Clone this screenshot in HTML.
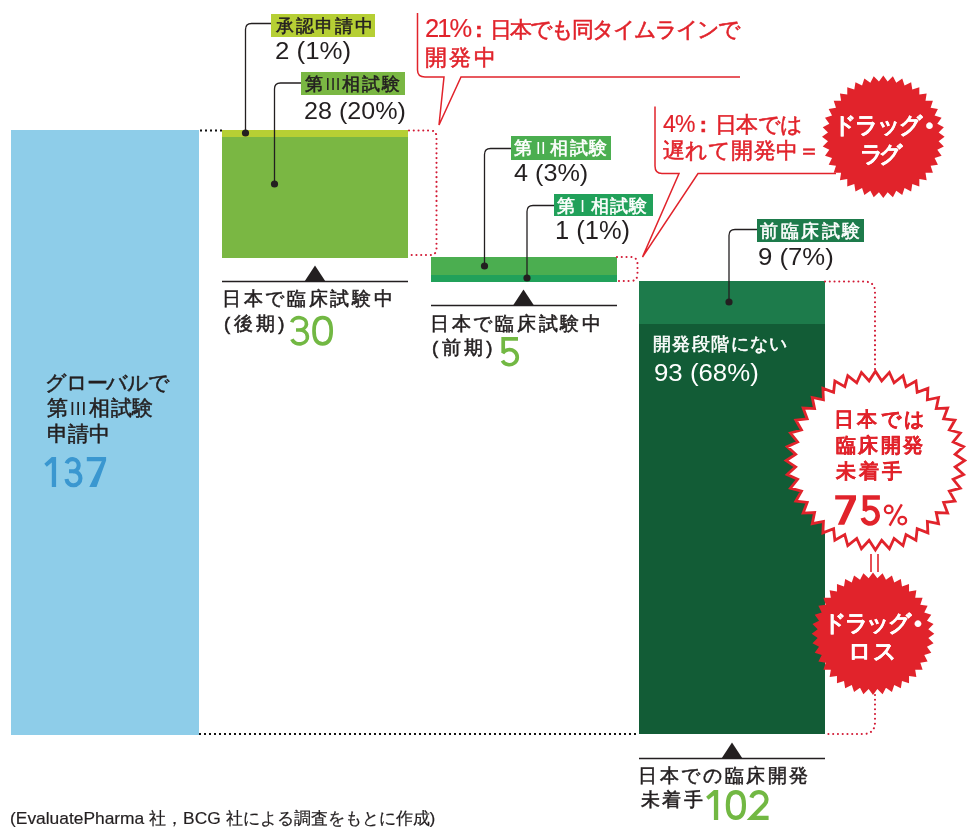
<!DOCTYPE html><html><head><meta charset="utf-8"><style>
html,body{margin:0;padding:0;width:979px;height:839px;overflow:hidden;background:#fff}
body{position:relative;font-family:"Liberation Sans",sans-serif}
.t{position:absolute;white-space:nowrap;line-height:1;margin:0;padding:0;-webkit-text-stroke:0.55px currentColor;will-change:transform}
</style></head><body>
<svg width="979" height="839" viewBox="0 0 979 839" style="position:absolute;left:0;top:0"><rect x="11" y="130" width="188" height="605" fill="#8ecde9"/><rect x="222" y="130" width="186" height="128" fill="#7ab743"/><rect x="222" y="130" width="186" height="7" fill="#b6cf34"/><rect x="431" y="257" width="186" height="25" fill="#21a15a"/><rect x="431" y="257" width="186" height="18" fill="#4bae50"/><rect x="639" y="281" width="186" height="453" fill="#125c36"/><rect x="639" y="281" width="186" height="43" fill="#1d7b4b"/><rect x="271" y="14" width="104" height="23" fill="#b6cf34"/><rect x="301" y="72" width="104" height="23" fill="#7ab743"/><rect x="511" y="136" width="100" height="24" fill="#4bae50"/><rect x="554" y="194" width="99" height="22" fill="#21a15a"/><rect x="757" y="219" width="107" height="23" fill="#1d7b4b"/><line x1="200" y1="130.5" x2="222" y2="130.5" stroke="#111" stroke-width="2" stroke-dasharray="2 3"/><line x1="199" y1="734" x2="639" y2="734" stroke="#111" stroke-width="2" stroke-dasharray="2 3"/><path d="M271,23.5 H251.5 Q245.5,23.5 245.5,29.5 V133" fill="none" stroke="#231f20" stroke-width="1.3"/><circle cx="245.5" cy="133" r="3.6" fill="#231f20"/><path d="M301,83 H280.5 Q274.5,83 274.5,89 V184" fill="none" stroke="#231f20" stroke-width="1.3"/><circle cx="274.5" cy="184" r="3.6" fill="#231f20"/><path d="M511,148.5 H490.5 Q484.5,148.5 484.5,154.5 V266" fill="none" stroke="#231f20" stroke-width="1.3"/><circle cx="484.5" cy="266" r="3.6" fill="#231f20"/><path d="M554,205.5 H533 Q527,205.5 527,211.5 V278" fill="none" stroke="#231f20" stroke-width="1.3"/><circle cx="527" cy="278" r="3.6" fill="#231f20"/><path d="M757,229.5 H735 Q729,229.5 729,235.5 V302" fill="none" stroke="#231f20" stroke-width="1.3"/><circle cx="729" cy="302" r="3.6" fill="#231f20"/><line x1="222" y1="281.5" x2="408" y2="281.5" stroke="#231f20" stroke-width="1.3"/><path d="M304.5,281.5 L315,265.5 L325.5,281.5 Z" fill="#231f20"/><line x1="431" y1="305.5" x2="617" y2="305.5" stroke="#231f20" stroke-width="1.3"/><path d="M513.0,305.5 L523.5,289.5 L534.0,305.5 Z" fill="#231f20"/><line x1="639" y1="758.5" x2="825" y2="758.5" stroke="#231f20" stroke-width="1.3"/><path d="M721.5,758.5 L732,742.5 L742.5,758.5 Z" fill="#231f20"/><path d="M409,130.5 H430 Q436.5,130.5 436.5,137 V248.5 Q436.5,255 430,255 H407" fill="none" stroke="#d21a35" stroke-width="2.1" stroke-linecap="round" stroke-dasharray="0.01 4.75"/><path d="M617,257 H630.5 Q637.5,257 637.5,264 V274 Q637.5,281 630.5,281 H617" fill="none" stroke="#d21a35" stroke-width="2.1" stroke-linecap="round" stroke-dasharray="0.01 4.75"/><path d="M825,281.5 H864 Q875,281.5 875,292 V372" fill="none" stroke="#d21a35" stroke-width="2.1" stroke-linecap="round" stroke-dasharray="0.01 4.75"/><path d="M875,695 V722 Q875,734 863,734 H825" fill="none" stroke="#d21a35" stroke-width="2.1" stroke-linecap="round" stroke-dasharray="0.01 4.75"/><path d="M417.5,13 V70 Q417.5,77 425,77 H444 L439,125 L461,77 H740" fill="none" stroke="#e1232b" stroke-width="1.5"/><path d="M655,106.5 V166 Q655,173.5 662,173.5 H679 L642.5,257 L698,173.5 H836" fill="none" stroke="#e1232b" stroke-width="1.5"/><polygon points="883.30,75.50 887.65,81.47 892.89,76.25 896.26,82.83 902.24,78.50 904.54,85.52 911.13,82.18 912.30,89.48 919.33,87.21 919.34,94.60 926.65,93.45 925.50,100.76 932.89,100.77 930.62,107.80 937.92,108.97 934.58,115.56 941.60,117.86 937.27,123.84 943.85,127.21 938.63,132.45 944.60,136.80 938.63,141.15 943.85,146.39 937.27,149.76 941.60,155.74 934.58,158.04 937.92,164.63 930.62,165.80 932.89,172.83 925.50,172.84 926.65,180.15 919.34,179.00 919.33,186.39 912.30,184.12 911.13,191.42 904.54,188.08 902.24,195.10 896.26,190.77 892.89,197.35 887.65,192.13 883.30,198.10 878.95,192.13 873.71,197.35 870.34,190.77 864.36,195.10 862.06,188.08 855.47,191.42 854.30,184.12 847.27,186.39 847.26,179.00 839.95,180.15 841.10,172.84 833.71,172.83 835.98,165.80 828.68,164.63 832.02,158.04 825.00,155.74 829.33,149.76 822.75,146.39 827.97,141.15 822.00,136.80 827.97,132.45 822.75,127.21 829.33,123.84 825.00,117.86 832.02,115.56 828.68,108.97 835.98,107.80 833.71,100.77 841.10,100.76 839.95,93.45 847.26,94.60 847.27,87.21 854.30,89.48 855.47,82.18 862.06,85.52 864.36,78.50 870.34,82.83 873.71,76.25 878.95,81.47" fill="#e1232b"/><polygon points="875.40,371.30 881.68,380.85 889.37,372.40 894.08,382.81 903.00,375.67 906.01,386.69 915.94,381.03 917.20,392.39 927.89,388.35 927.36,399.77 938.54,397.46 936.23,408.64 947.65,408.11 943.61,418.80 954.97,420.06 949.31,429.99 960.33,433.00 953.19,441.92 963.60,446.63 955.15,454.32 964.70,460.60 955.15,466.88 963.60,474.57 953.19,479.28 960.33,488.20 949.31,491.21 954.97,501.14 943.61,502.40 947.65,513.09 936.23,512.56 938.54,523.74 927.36,521.43 927.89,532.85 917.20,528.81 915.94,540.17 906.01,534.51 903.00,545.53 894.08,538.39 889.37,548.80 881.68,540.35 875.40,549.90 869.12,540.35 861.43,548.80 856.72,538.39 847.80,545.53 844.79,534.51 834.86,540.17 833.60,528.81 822.91,532.85 823.44,521.43 812.26,523.74 814.57,512.56 803.15,513.09 807.19,502.40 795.83,501.14 801.49,491.21 790.47,488.20 797.61,479.28 787.20,474.57 795.65,466.88 786.10,460.60 795.65,454.32 787.20,446.63 797.61,441.92 790.47,433.00 801.49,429.99 795.83,420.06 807.19,418.80 803.15,408.11 814.57,408.64 812.26,397.46 823.44,399.77 822.91,388.35 833.60,392.39 834.86,381.03 844.79,386.69 847.80,375.67 856.72,382.81 861.43,372.40 869.12,380.85" fill="#fff" stroke="#e1232b" stroke-width="2.8" stroke-linejoin="miter"/><line x1="871" y1="554" x2="871" y2="572" stroke="#e1232b" stroke-width="1.6"/><line x1="878" y1="554" x2="878" y2="572" stroke="#e1232b" stroke-width="1.6"/><polygon points="873.00,572.40 877.35,578.37 882.59,573.15 885.96,579.73 891.94,575.40 894.24,582.42 900.83,579.08 902.00,586.38 909.03,584.11 909.04,591.50 916.35,590.35 915.20,597.66 922.59,597.67 920.32,604.70 927.62,605.87 924.28,612.46 931.30,614.76 926.97,620.74 933.55,624.11 928.33,629.35 934.30,633.70 928.33,638.05 933.55,643.29 926.97,646.66 931.30,652.64 924.28,654.94 927.62,661.53 920.32,662.70 922.59,669.73 915.20,669.74 916.35,677.05 909.04,675.90 909.03,683.29 902.00,681.02 900.83,688.32 894.24,684.98 891.94,692.00 885.96,687.67 882.59,694.25 877.35,689.03 873.00,695.00 868.65,689.03 863.41,694.25 860.04,687.67 854.06,692.00 851.76,684.98 845.17,688.32 844.00,681.02 836.97,683.29 836.96,675.90 829.65,677.05 830.80,669.74 823.41,669.73 825.68,662.70 818.38,661.53 821.72,654.94 814.70,652.64 819.03,646.66 812.45,643.29 817.67,638.05 811.70,633.70 817.67,629.35 812.45,624.11 819.03,620.74 814.70,614.76 821.72,612.46 818.38,605.87 825.68,604.70 823.41,597.67 830.80,597.66 829.65,590.35 836.96,591.50 836.97,584.11 844.00,586.38 845.17,579.08 851.76,582.42 854.06,575.40 860.04,579.73 863.41,573.15 868.65,578.37" fill="#e1232b"/><polygon points="51.8,457 56.1,457 56.1,487 51.8,487 51.8,462.5 46.8,466.7 44.3,463.8" fill="#3a97d0"/><path d="M66.6,463.4 A6.2,6.2 0 1 1 73,471.5 M69,471.3 H73.8 A7,7 0 1 1 66.5,479.0" fill="none" stroke="#3a97d0" stroke-width="4.1"/><polygon points="86.8,457 106.1,457 106.1,460.5 96.5,487 89.3,487 101.8,461.3 86.8,461.3" fill="#3a97d0"/><path d="M291.75,322.26 A7.5,6.15 0 1 1 299,330 M296,330 H299.4 A8,6.95 0 1 1 291.9,339.33" fill="none" stroke="#72b843" stroke-width="3.7"/><path d="M322.6,317.7 C328.10,317.7 331.20000000000005,322.42 331.20000000000005,330.8 C331.20000000000005,339.18 328.10,343.90000000000003 322.6,343.90000000000003 C317.10,343.90000000000003 314.0,339.18 314.0,330.8 C314.0,322.42 317.10,317.7 322.6,317.7 Z" fill="none" stroke="#72b843" stroke-width="3.7"/><path d="M518,338.85 H503.2 V352.5 M502.6,353.4 A7.85,7.55 0 1 1 502.4,360.6" fill="none" stroke="#72b843" stroke-width="3.7"/><polygon points="713.9,790 718.2,790 718.2,820 713.9,820 713.9,795.5 708.4,799.7 706.1,796.8" fill="#72b843"/><path d="M735.9,792.1 C741.08,792.1 744.0,796.74 744.0,805 C744.0,813.26 741.08,817.9 735.9,817.9 C730.72,817.9 727.8,813.26 727.8,805 C727.8,796.74 730.72,792.1 735.9,792.1 Z" fill="none" stroke="#72b843" stroke-width="4.1"/><path d="M751.36,797.58 A7.7,7.4 0 1 1 764.7,804.26 L751.5,817.9 H768.6" fill="none" stroke="#72b843" stroke-width="4.1" stroke-linejoin="miter"/><polygon points="835.2,495.2 856,495.2 856,499.5 844.3,524.7 837.8,524.7 849.3,499.5 835.2,499.5" fill="#e1232b"/><path d="M879.9,497.5 H865 V511 M864.2,510.6 A7.6,7.9 0 1 1 862.8,517.9" fill="none" stroke="#e1232b" stroke-width="4.6"/><circle cx="888.7" cy="509.4" r="3.8" fill="none" stroke="#e1232b" stroke-width="2.3"/><circle cx="902.3" cy="520.6" r="3.8" fill="none" stroke="#e1232b" stroke-width="2.3"/><line x1="901.8" y1="504.3" x2="889.6" y2="525.6" stroke="#e1232b" stroke-width="2.4"/></svg>
<div class="t" id="t1" style="left:275.80px;top:16.50px;font-size:18.40px;color:#231f20;letter-spacing:1.720px;">承認申請中</div>
<div class="t" id="t2" style="left:274.80px;top:40.45px;font-size:23.24px;color:#231f20;-webkit-text-stroke:0;transform:scaleX(1.1135);transform-origin:0 0;">2 (1%)</div>
<div class="t" id="t3" style="left:304.80px;top:74.60px;font-size:18.40px;color:#231f20;letter-spacing:1.707px;">第<span style="font-size:90%;margin:0 0.1em 0 0.05em;letter-spacing:0.5px;-webkit-text-stroke:0">III</span>相試験</div>
<div class="t" id="t4" style="left:303.80px;top:98.65px;font-size:24.68px;color:#231f20;-webkit-text-stroke:0;transform:scaleX(1.0172);transform-origin:0 0;">28 (20%)</div>
<div class="t" id="t5" style="left:425.00px;top:15.70px;font-size:21.50px;color:#e1232b;letter-spacing:-1.920px;"><span style="-webkit-text-stroke:0.15px currentColor;font-size:25.5px">21%</span><span style="margin:0 9px 0 5px;font-weight:bold">:</span>日本でも同タイムラインで</div>
<div class="t" id="t6" style="left:425.00px;top:47.50px;font-size:21.50px;color:#e1232b;letter-spacing:2.400px;">開発中</div>
<div class="t" id="t7" style="left:514.00px;top:139.00px;font-size:18.40px;color:#ffffff;letter-spacing:1.420px;">第<span style="font-size:90%;margin:0 0.25em 0 0.15em;letter-spacing:0.5px;-webkit-text-stroke:0">II</span>相試験</div>
<div class="t" id="t8" style="left:514.00px;top:161.10px;font-size:24.44px;color:#231f20;-webkit-text-stroke:0;transform:scaleX(1.0313);transform-origin:0 0;">4 (3%)</div>
<div class="t" id="t9" style="left:556.50px;top:197.10px;font-size:18.40px;color:#ffffff;letter-spacing:1.160px;">第<span style="font-size:90%;margin:0 0.3em 0 0.25em;-webkit-text-stroke:0">I</span>相試験</div>
<div class="t" id="t10" style="left:555.20px;top:218.25px;font-size:25.00px;color:#231f20;-webkit-text-stroke:0;transform:scaleX(1.0188);transform-origin:0 0;">1 (1%)</div>
<div class="t" id="t11" style="left:663.40px;top:113.30px;font-size:21.50px;color:#e1232b;letter-spacing:-0.760px;"><span style="-webkit-text-stroke:0.15px currentColor;font-size:23px">4%</span><span style="margin:0 9px 0 5px;font-weight:bold">:</span>日本では</div>
<div class="t" id="t12" style="left:663.40px;top:141.20px;font-size:21.50px;color:#e1232b;letter-spacing:0.160px;">遅れて開発中＝</div>
<div class="t" id="t13" style="left:832.90px;top:114.15px;font-size:22.70px;color:#ffffff;font-weight:bold;-webkit-text-stroke:0.15px currentColor;letter-spacing:-2.160px;">ドラッグ<span style="font-family:'Liberation Sans';margin-left:5px">•</span></div>
<div class="t" id="t14" style="left:860.40px;top:143.40px;font-size:22.70px;color:#ffffff;font-weight:bold;-webkit-text-stroke:0.15px currentColor;letter-spacing:-5.120px;">ラグ</div>
<div class="t" id="t15" style="left:760.00px;top:221.50px;font-size:18.40px;color:#ffffff;letter-spacing:2.600px;">前臨床試験</div>
<div class="t" id="t16" style="left:758.20px;top:246.25px;font-size:23.43px;color:#231f20;-webkit-text-stroke:0;transform:scaleX(1.0985);transform-origin:0 0;">9 (7%)</div>
<div class="t" id="t17" style="left:221.80px;top:289.50px;font-size:18.60px;color:#231f20;letter-spacing:2.674px;">日本で臨床試験中</div>
<div class="t" id="t18" style="left:223.80px;top:314.75px;font-size:18.60px;color:#231f20;letter-spacing:3.360px;">(後期)</div>
<div class="t" id="t20" style="left:430.20px;top:314.50px;font-size:18.60px;color:#231f20;letter-spacing:2.720px;">日本で臨床試験中</div>
<div class="t" id="t21" style="left:432.20px;top:338.65px;font-size:18.60px;color:#231f20;letter-spacing:3.360px;">(前期)</div>
<div class="t" id="t23" style="left:653.40px;top:335.30px;font-size:18.40px;color:#ffffff;letter-spacing:1.413px;">開発段階にない</div>
<div class="t" id="t24" style="left:653.70px;top:360.75px;font-size:24.21px;color:#ffffff;-webkit-text-stroke:0;transform:scaleX(1.0664);transform-origin:0 0;">93 (68%)</div>
<div class="t" id="t25" style="left:44.80px;top:371.80px;font-size:21.00px;color:#231f20;letter-spacing:-1.216px;">グローバルで</div>
<div class="t" id="t26" style="left:47.40px;top:396.55px;font-size:21.00px;color:#231f20;letter-spacing:0.727px;">第<span style="font-size:90%;margin:0 0.1em 0 0.05em;letter-spacing:0.5px;-webkit-text-stroke:0">III</span>相試験</div>
<div class="t" id="t27" style="left:47.40px;top:423.45px;font-size:21.00px;color:#231f20;letter-spacing:-0.000px;">申請中</div>
<div class="t" id="t29" style="left:834.00px;top:408.75px;font-size:20.40px;color:#e1232b;font-weight:bold;-webkit-text-stroke:0.15px currentColor;letter-spacing:3.467px;">日本では</div>
<div class="t" id="t30" style="left:836.00px;top:435.20px;font-size:20.40px;color:#e1232b;font-weight:bold;-webkit-text-stroke:0.15px currentColor;letter-spacing:2.400px;">臨床開発</div>
<div class="t" id="t31" style="left:836.00px;top:460.95px;font-size:20.40px;color:#e1232b;font-weight:bold;-webkit-text-stroke:0.15px currentColor;letter-spacing:2.800px;">未着手</div>
<div class="t" id="t33" style="left:822.90px;top:612.45px;font-size:22.70px;color:#ffffff;font-weight:bold;-webkit-text-stroke:0.15px currentColor;letter-spacing:-2.480px;">ドラッグ<span style="font-family:'Liberation Sans';margin-left:5px">•</span></div>
<div class="t" id="t34" style="left:847.80px;top:639.55px;font-size:22.70px;color:#ffffff;font-weight:bold;-webkit-text-stroke:0.15px currentColor;letter-spacing:0.960px;">ロス</div>
<div class="t" id="t35" style="left:638.20px;top:767.20px;font-size:18.60px;color:#231f20;letter-spacing:2.629px;">日本での臨床開発</div>
<div class="t" id="t36" style="left:641.20px;top:791.25px;font-size:18.60px;color:#231f20;letter-spacing:2.320px;">未着手</div>
<div class="t" id="t38" style="left:10.20px;top:810.35px;font-size:17.39px;color:#231f20;-webkit-text-stroke:0.2px currentColor;">(EvaluatePharma 社，BCG 社による調査をもとに作成)</div>
</body></html>
